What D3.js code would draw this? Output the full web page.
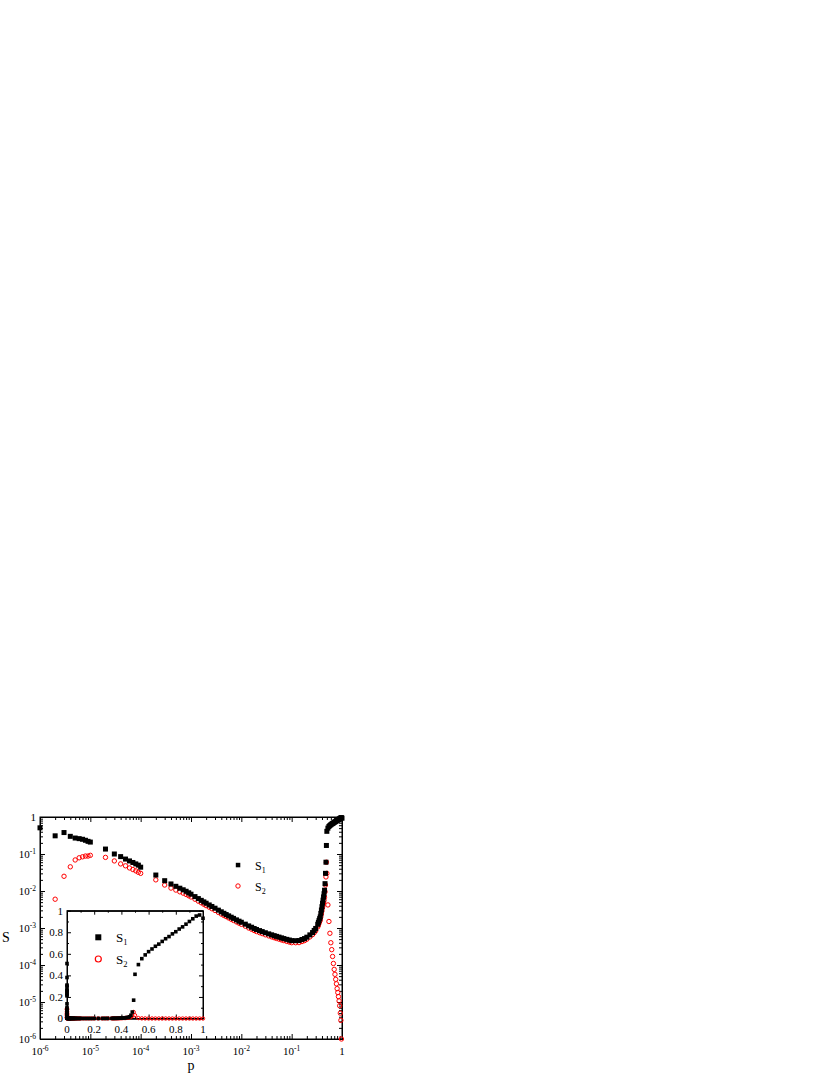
<!DOCTYPE html>
<html lang="en">
<head>
  <meta charset="UTF-8"/>
  <title>S vs p</title>
  <script src="https://d3js.org/d3.v7.min.js"></script>
  <style>
    body { margin: 0; background: #fff; }
    text { font-family: "Liberation Serif", "Times New Roman", serif; fill: #000; }
  </style>
</head>
<body>
<script>

// discrete points at small p
var pLow  = [1e-6, 2e-6, 3e-6, 4e-6, 5e-6, 6e-6, 7e-6, 8e-6, 9e-6, 1e-5,
             2e-5, 3e-5, 4e-5, 5e-5, 6e-5, 7e-5, 8e-5, 9e-5, 1e-4,
             2e-4, 3e-4, 4e-4];
var s1Low = [0.51, 0.31, 0.38, 0.30, 0.27, 0.26, 0.25, 0.235, 0.22, 0.21,
             0.136, 0.10, 0.085, 0.073, 0.065, 0.059, 0.054, 0.05, 0.044,
             0.027, 0.019, 0.0155];
var s2Low = [0, 0.006, 0.025, 0.045, 0.069, 0.079, 0.084, 0.088, 0.088, 0.092,
             0.081, 0.065, 0.054, 0.048, 0.042, 0.038, 0.035, 0.032, 0.030,
             0.020, 0.0145, 0.012];

// dense part of the curve, up to the threshold
var pMid  = [5e-4, 6e-4, 7e-4, 8e-4, 9e-4, 1e-3, 1.2e-3, 1.4e-3, 1.6e-3, 1.8e-3,
             2e-3, 2.3e-3, 2.6e-3, 3e-3, 3.5e-3, 4e-3, 4.5e-3, 5e-3, 5.6e-3, 6.3e-3,
             7e-3, 8e-3, 9e-3, 0.01, 0.012, 0.014, 0.016, 0.018, 0.02, 0.023,
             0.026, 0.03, 0.035, 0.04, 0.045, 0.05, 0.056, 0.063, 0.07, 0.08,
             0.09, 0.1, 0.12, 0.14, 0.16, 0.18, 0.2, 0.23, 0.26, 0.28,
             0.3, 0.33, 0.34, 0.35, 0.36, 0.37, 0.38, 0.39, 0.4, 0.41,
             0.42, 0.43, 0.44, 0.45, 0.46, 0.47, 0.48, 0.49, 0.5];
var s1Mid = [0.0134, 0.0119, 0.0108, 0.00984, 0.00895, 0.0082, 0.00706, 0.00624, 0.00559, 0.00508,
             0.00468, 0.0042, 0.00382, 0.00343, 0.00304, 0.00274, 0.0025, 0.00231, 0.00213, 0.00196,
             0.00182, 0.00166, 0.00153, 0.00143, 0.00127, 0.00114, 0.00105, 0.00097, 0.000912, 0.000851,
             0.0008, 0.000745, 0.000695, 0.000655, 0.000621, 0.000594, 0.000568, 0.000541, 0.000518, 0.000493,
             0.000473, 0.000456, 0.000454, 0.000458, 0.000489, 0.000518, 0.000565, 0.000652, 0.000753, 0.000859,
             0.000973, 0.00126, 0.00142, 0.0016, 0.00179, 0.002, 0.00248, 0.00306, 0.00377, 0.00467,
             0.00566, 0.00692, 0.00845, 0.0105, 0.0158, 0.03, 0.06, 0.17, 0.41];
var s2Mid = [0.0106, 0.0095, 0.00875, 0.00807, 0.00743, 0.00689, 0.0060, 0.0053, 0.00481, 0.00437,
             0.00402, 0.00365, 0.00332, 0.00298, 0.00264, 0.00238, 0.00218, 0.00203, 0.00187, 0.00172,
             0.0016, 0.00146, 0.00135, 0.00126, 0.00112, 0.001, 0.000924, 0.000854, 0.000803, 0.000749,
             0.000704, 0.000656, 0.000612, 0.000576, 0.000546, 0.000523, 0.0005, 0.000476, 0.000456, 0.000434,
             0.000416, 0.000401, 0.0004, 0.000403, 0.00043, 0.000456, 0.000497, 0.000574, 0.000663, 0.000747,
             0.00084, 0.00107, 0.0012, 0.00134, 0.0015, 0.00165, 0.002, 0.0024, 0.0029, 0.0035,
             0.0041, 0.0048, 0.0056, 0.0068, 0.0095, 0.0145, 0.024, 0.06, 0.03];

// above the threshold
var pHigh  = [0.525, 0.55, 0.575, 0.6, 0.625, 0.65, 0.675, 0.7, 0.725, 0.75,
              0.775, 0.8, 0.825, 0.85, 0.875, 0.9, 0.925, 0.95, 0.975, 1.0];
var s1High = [0.50, 0.555, 0.59, 0.62, 0.645, 0.67, 0.69, 0.715, 0.74, 0.76,
              0.785, 0.805, 0.83, 0.85, 0.875, 0.90, 0.925, 0.95, 0.96, 0.93];
var s2High = [0.0042, 0.0015, 7.2e-4, 4e-4, 2.6e-4, 1.7e-4, 1.1e-4, 7.6e-5, 5.6e-5, 4.1e-5,
              3.1e-5, 2.3e-5, 1.8e-5, 1.4e-5, 1.07e-5, 7.9e-6, 5e-6, 3.2e-6, 1e-6, 0];

var decades = [1e-6, 1e-5, 1e-4, 1e-3, 1e-2, 1e-1, 1];
var insetTicks = [0, 0.2, 0.4, 0.6, 0.8, 1];

var pAll  = pLow.concat(pMid, pHigh);
var s1All = s1Low.concat(s1Mid, s1High);
var s2All = s2Low.concat(s2Mid, s2High);
var data = pAll.map(function(p, i) { return {p: p, s1: s1All[i], s2: s2All[i]}; });

var W = 830, H = 1075;
var svg = d3.select("body").append("svg").attr("width", W).attr("height", H);

// ---------- main plot ----------
var x = d3.scaleLog().domain([1e-6, 1]).range([40, 342]);
var y = d3.scaleLog().domain([1e-6, 1]).range([1039, 817]);

var minor = [];
decades.slice(0, -1).forEach(function(d) {
  for (var k = 2; k <= 9; k++) minor.push(d * k);
});

function drawAxes(g, xs, ys, major, minorVals, bigT, smallT) {
  var x0 = xs.range()[0], x1 = xs.range()[1], y0 = ys.range()[0], y1 = ys.range()[1];
  [["b", y0], ["t", y1]].forEach(function(s) {
    var ax = (s[0] == "b" ? d3.axisBottom(xs) : d3.axisTop(xs));
    g.append("g").attr("transform", "translate(0," + s[1] + ")")
      .call(ax.tickValues(major).tickSize(-bigT).tickSizeOuter(0).tickFormat(""));
    g.append("g").attr("transform", "translate(0," + s[1] + ")")
      .call((s[0] == "b" ? d3.axisBottom(xs) : d3.axisTop(xs))
        .tickValues(minorVals.x).tickSize(-smallT).tickSizeOuter(0).tickFormat(""));
  });
  [["l", x0], ["r", x1]].forEach(function(s) {
    g.append("g").attr("transform", "translate(" + s[1] + ",0)")
      .call((s[0] == "l" ? d3.axisLeft(ys) : d3.axisRight(ys))
        .tickValues(major).tickSize(-bigT).tickSizeOuter(0).tickFormat(""));
    g.append("g").attr("transform", "translate(" + s[1] + ",0)")
      .call((s[0] == "l" ? d3.axisLeft(ys) : d3.axisRight(ys))
        .tickValues(minorVals.y).tickSize(-smallT).tickSizeOuter(0).tickFormat(""));
  });
  g.selectAll("path.domain").attr("stroke", "#000");
  g.selectAll(".tick line").attr("stroke", "#000");
  g.append("rect").attr("x", x0).attr("y", y1).attr("width", x1 - x0).attr("height", y0 - y1)
    .attr("fill", "none").attr("stroke", "#000");
}

var gMain = svg.append("g");
drawAxes(gMain, x, y, decades, {x: minor, y: minor}, 5, 3);

function powLabel(sel, v) {
  var e = Math.round(Math.log10(v));
  if (e == 0) { sel.text("1"); return; }
  sel.append("tspan").text("10");
  sel.append("tspan").attr("dy", -4.5).attr("font-size", "7.5px").text(e);
}

decades.forEach(function(d) {
  var t = svg.append("text").attr("x", x(d)).attr("y", 1055)
    .attr("text-anchor", "middle").attr("font-size", "11px");
  powLabel(t, d);
  var t2 = svg.append("text").attr("x", 36).attr("y", y(d) + 4)
    .attr("text-anchor", "end").attr("font-size", "11px");
  powLabel(t2, d);
});

svg.append("text").attr("x", 2).attr("y", 942).attr("font-size", "14px").text("S");
svg.append("text").attr("x", 191).attr("y", 1070).attr("text-anchor", "middle")
  .attr("font-size", "14px").text("p");

var gData = svg.append("g");
gData.selectAll("circle")
  .data(data.filter(function(d) { return d.s2 > 0; }))
  .enter().append("circle")
  .attr("cx", function(d) { return x(d.p); })
  .attr("cy", function(d) { return y(d.s2); })
  .attr("r", 2.2)
  .attr("fill", "none").attr("stroke", "#ff0000").attr("stroke-width", 1);
gData.selectAll("rect")
  .data(data.filter(function(d) { return d.s1 > 0; }))
  .enter().append("rect")
  .attr("x", function(d) { return x(d.p) - 2.5; })
  .attr("y", function(d) { return y(d.s1) - 2.5; })
  .attr("width", 5).attr("height", 5).attr("fill", "#000");

// legend
svg.append("rect").attr("x", 235.8).attr("y", 862.8).attr("width", 4.5).attr("height", 4.5).attr("fill", "#000");
svg.append("circle").attr("cx", 238).attr("cy", 886).attr("r", 2.2)
  .attr("fill", "none").attr("stroke", "#ff0000");
[["1", 869.5], ["2", 890.5]].forEach(function(l) {
  var t = svg.append("text").attr("x", 255).attr("y", l[1]).attr("font-size", "12px");
  t.append("tspan").text("S");
  t.append("tspan").attr("dy", 3).attr("font-size", "8px").text(l[0]);
});

// ---------- inset ----------
var xi = d3.scaleLinear().domain([0, 1]).range([67, 203]);
var yi = d3.scaleLinear().domain([0, 1]).range([1018.5, 910.7]);

svg.append("rect").attr("x", 67).attr("y", 910.7).attr("width", 136).attr("height", 107.8)
  .attr("fill", "#fff");

var gIn = svg.append("g");
var insetMinor = [0.1, 0.3, 0.5, 0.7, 0.9];
drawAxes(gIn, xi, yi, insetTicks, {x: insetMinor, y: insetMinor}, 4, 2);

var fmt = d3.format("~g");
insetTicks.forEach(function(v) {
  svg.append("text").attr("x", xi(v)).attr("y", 1033).attr("text-anchor", "middle")
    .attr("font-size", "11px").text(fmt(v));
  svg.append("text").attr("x", 63).attr("y", yi(v) + 3.8).attr("text-anchor", "end")
    .attr("font-size", "11px").text(fmt(v));
});

var gInData = svg.append("g");
gInData.selectAll("circle").data(data).enter().append("circle")
  .attr("cx", function(d) { return xi(d.p); })
  .attr("cy", function(d) { return yi(d.s2); })
  .attr("r", 1.7)
  .attr("fill", "none").attr("stroke", "#ff0000").attr("stroke-width", 1);
gInData.selectAll("rect").data(data).enter().append("rect")
  .attr("x", function(d) { return xi(d.p) - 1.8; })
  .attr("y", function(d) { return yi(d.s1) - 1.8; })
  .attr("width", 3.6).attr("height", 3.6).attr("fill", "#000");

// inset legend
svg.append("rect").attr("x", 95.3).attr("y", 934.3).attr("width", 6).attr("height", 6).attr("fill", "#000");
svg.append("circle").attr("cx", 98.3).attr("cy", 959).attr("r", 3)
  .attr("fill", "none").attr("stroke", "#ff0000").attr("stroke-width", 1.2);
[["1", 941.5], ["2", 963.5]].forEach(function(l) {
  var t = svg.append("text").attr("x", 116).attr("y", l[1]).attr("font-size", "13px");
  t.append("tspan").text("S");
  t.append("tspan").attr("dy", 3.5).attr("font-size", "8.5px").text(l[0]);
});

</script>
</body>
</html>
